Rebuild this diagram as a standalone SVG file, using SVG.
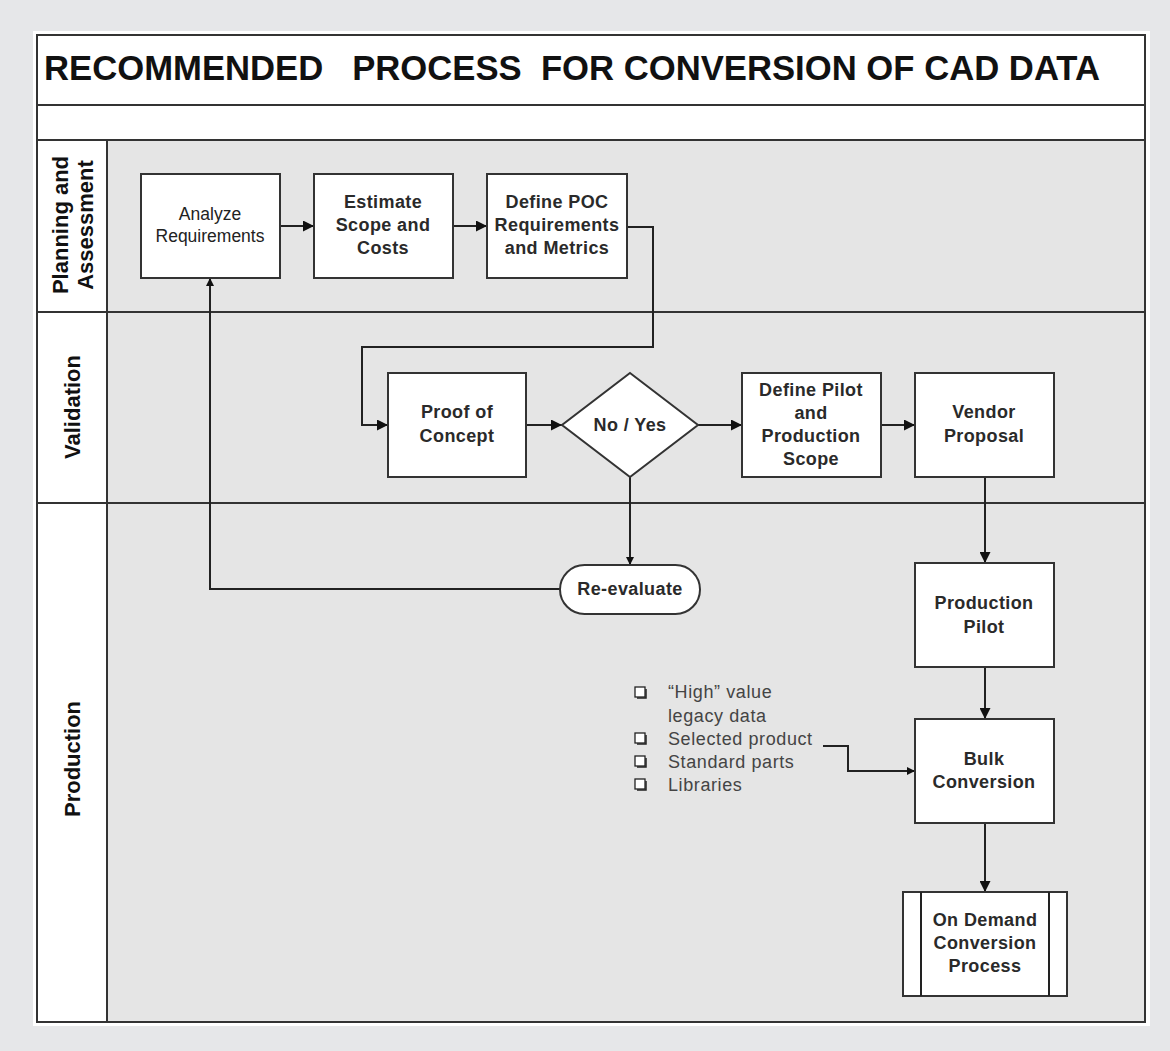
<svg xmlns="http://www.w3.org/2000/svg" width="1170" height="1051" viewBox="0 0 1170 1051">
<defs>
<marker id="arr" viewBox="0 0 10 10" refX="10" refY="5" markerWidth="11" markerHeight="11" markerUnits="userSpaceOnUse" orient="auto">
<path d="M0,0 L10,5 L0,10 z" fill="#111"/>
</marker>
<marker id="arrS" viewBox="0 0 10 10" refX="10" refY="5" markerWidth="8" markerHeight="8" markerUnits="userSpaceOnUse" orient="auto">
<path d="M0,0 L10,5 L0,10 z" fill="#111"/>
</marker>
</defs>
<style>
.lane{fill:#e5e5e5;stroke:#333;stroke-width:2}
.lbl{fill:#fff;stroke:#333;stroke-width:2}
.box{fill:#fff;stroke:#333;stroke-width:2}
.t{font-family:"Liberation Sans",Arial,sans-serif;font-weight:bold;font-size:18px;letter-spacing:0.4px;fill:#2a2a2a;text-anchor:middle}
.tr{font-family:"Liberation Sans",Arial,sans-serif;font-size:17.5px;fill:#222;text-anchor:middle}
.lane-t{font-family:"Liberation Sans",Arial,sans-serif;font-weight:bold;font-size:22px;fill:#111;text-anchor:middle}
.title{font-family:"Liberation Sans",Arial,sans-serif;font-weight:bold;font-size:35px;fill:#111;white-space:pre}
.li{font-family:"Liberation Sans",Arial,sans-serif;font-size:18px;letter-spacing:0.6px;fill:#444}
.c{fill:none;stroke:#222;stroke-width:2}
.cb{fill:#fff;stroke:#222;stroke-width:1.3}
</style>
<rect x="0" y="0" width="1170" height="1051" fill="#e6e7e9"/>
<rect x="33" y="31" width="1117" height="995" fill="#fff"/>
<g id="frame">
<rect x="37" y="35" width="1108" height="70" fill="#fff" stroke="#333" stroke-width="2"/>
<rect x="37" y="105" width="1108" height="35" fill="#fff" stroke="#333" stroke-width="2"/>
<text class="title" x="44" y="80" textLength="1056" lengthAdjust="spacingAndGlyphs" xml:space="preserve">RECOMMENDED   PROCESS  FOR CONVERSION OF CAD DATA</text>
</g>
<g id="lane-planning">
<rect class="lane" x="107" y="140" width="1038" height="172"/>
<rect class="lbl" x="37" y="140" width="70" height="172"/>
<text class="lane-t" transform="translate(68,225) rotate(-90)">Planning and</text>
<text class="lane-t" transform="translate(93,225) rotate(-90)">Assessment</text>
</g>
<g id="lane-validation">
<rect class="lane" x="107" y="312" width="1038" height="191"/>
<rect class="lbl" x="37" y="312" width="70" height="191"/>
<text class="lane-t" transform="translate(80,407) rotate(-90)">Validation</text>
</g>
<g id="lane-production">
<rect class="lane" x="107" y="503" width="1038" height="519"/>
<rect class="lbl" x="37" y="503" width="70" height="519"/>
<text class="lane-t" transform="translate(80,759) rotate(-90)">Production</text>
</g>
<g id="connectors">
<line class="c" x1="280" y1="226" x2="314" y2="226" marker-end="url(#arr)"/>
<line class="c" x1="453" y1="226" x2="487" y2="226" marker-end="url(#arr)"/>
<polyline class="c" points="627,227 653,227 653,347 362,347 362,425 388,425" marker-end="url(#arr)"/>
<line class="c" x1="526" y1="425" x2="562" y2="425" marker-end="url(#arr)"/>
<line class="c" x1="698" y1="425" x2="742" y2="425" marker-end="url(#arr)"/>
<line class="c" x1="881" y1="425" x2="915" y2="425" marker-end="url(#arr)"/>
<line class="c" x1="630" y1="477" x2="630" y2="565" marker-end="url(#arrS)"/>
<polyline class="c" points="560,589 210,589 210,278" marker-end="url(#arrS)"/>
<line class="c" x1="985" y1="477" x2="985" y2="563" marker-end="url(#arr)"/>
<line class="c" x1="985" y1="667" x2="985" y2="719" marker-end="url(#arr)"/>
<polyline class="c" points="823,746 848,746 848,771 915,771" marker-end="url(#arrS)"/>
<line class="c" x1="985" y1="823" x2="985" y2="892" marker-end="url(#arr)"/>
</g>
<g id="analyze">
<rect class="box" x="141" y="174" width="139" height="104"/>
<text class="tr" x="210" y="220">Analyze</text>
<text class="tr" x="210" y="242">Requirements</text>
</g>
<g id="estimate">
<rect class="box" x="314" y="174" width="139" height="104"/>
<text class="t" x="383" y="208">Estimate</text>
<text class="t" x="383" y="231">Scope and</text>
<text class="t" x="383" y="254">Costs</text>
</g>
<g id="define-poc">
<rect class="box" x="487" y="174" width="140" height="104"/>
<text class="t" x="557" y="208">Define POC</text>
<text class="t" x="557" y="231">Requirements</text>
<text class="t" x="557" y="254">and Metrics</text>
</g>
<g id="poc">
<rect class="box" x="388" y="373" width="138" height="104"/>
<text class="t" x="457" y="418">Proof of</text>
<text class="t" x="457" y="442">Concept</text>
</g>
<g id="decision">
<polygon class="box" points="630,373 698,425 630,477 562,425"/>
<text class="t" x="630" y="431">No / Yes</text>
</g>
<g id="define-pilot">
<rect class="box" x="742" y="373" width="139" height="104"/>
<text class="t" x="811" y="396">Define Pilot</text>
<text class="t" x="811" y="419">and</text>
<text class="t" x="811" y="442">Production</text>
<text class="t" x="811" y="465">Scope</text>
</g>
<g id="vendor">
<rect class="box" x="915" y="373" width="139" height="104"/>
<text class="t" x="984" y="418">Vendor</text>
<text class="t" x="984" y="442">Proposal</text>
</g>
<g id="reevaluate">
<rect class="box" x="560" y="565" width="140" height="49" rx="24.5" ry="24.5"/>
<text class="t" x="630" y="595">Re-evaluate</text>
</g>
<g id="pilot">
<rect class="box" x="915" y="563" width="139" height="104"/>
<text class="t" x="984" y="609">Production</text>
<text class="t" x="984" y="633">Pilot</text>
</g>
<g id="bulk">
<rect class="box" x="915" y="719" width="139" height="104"/>
<text class="t" x="984" y="765">Bulk</text>
<text class="t" x="984" y="788">Conversion</text>
</g>
<g id="ondemand">
<rect class="box" x="903" y="892" width="164" height="104"/>
<line class="c" x1="921" y1="892" x2="921" y2="996"/>
<line class="c" x1="1049" y1="892" x2="1049" y2="996"/>
<text class="t" x="985" y="926">On Demand</text>
<text class="t" x="985" y="949">Conversion</text>
<text class="t" x="985" y="972">Process</text>
</g>
<g id="list">
<g>
<rect class="cb" x="635" y="687" width="10" height="10"/><polyline points="637,698 646,698 646,689" fill="none" stroke="#222" stroke-width="1.5"/>
<rect class="cb" x="635" y="733" width="10" height="10"/><polyline points="637,744 646,744 646,735" fill="none" stroke="#222" stroke-width="1.5"/>
<rect class="cb" x="635" y="756" width="10" height="10"/><polyline points="637,767 646,767 646,758" fill="none" stroke="#222" stroke-width="1.5"/>
<rect class="cb" x="635" y="779" width="10" height="10"/><polyline points="637,790 646,790 646,781" fill="none" stroke="#222" stroke-width="1.5"/>
</g>
<text class="li" x="668" y="698">“High” value</text>
<text class="li" x="668" y="722">legacy data</text>
<text class="li" x="668" y="745">Selected product</text>
<text class="li" x="668" y="768">Standard parts</text>
<text class="li" x="668" y="791">Libraries</text>
</g>
</svg>
